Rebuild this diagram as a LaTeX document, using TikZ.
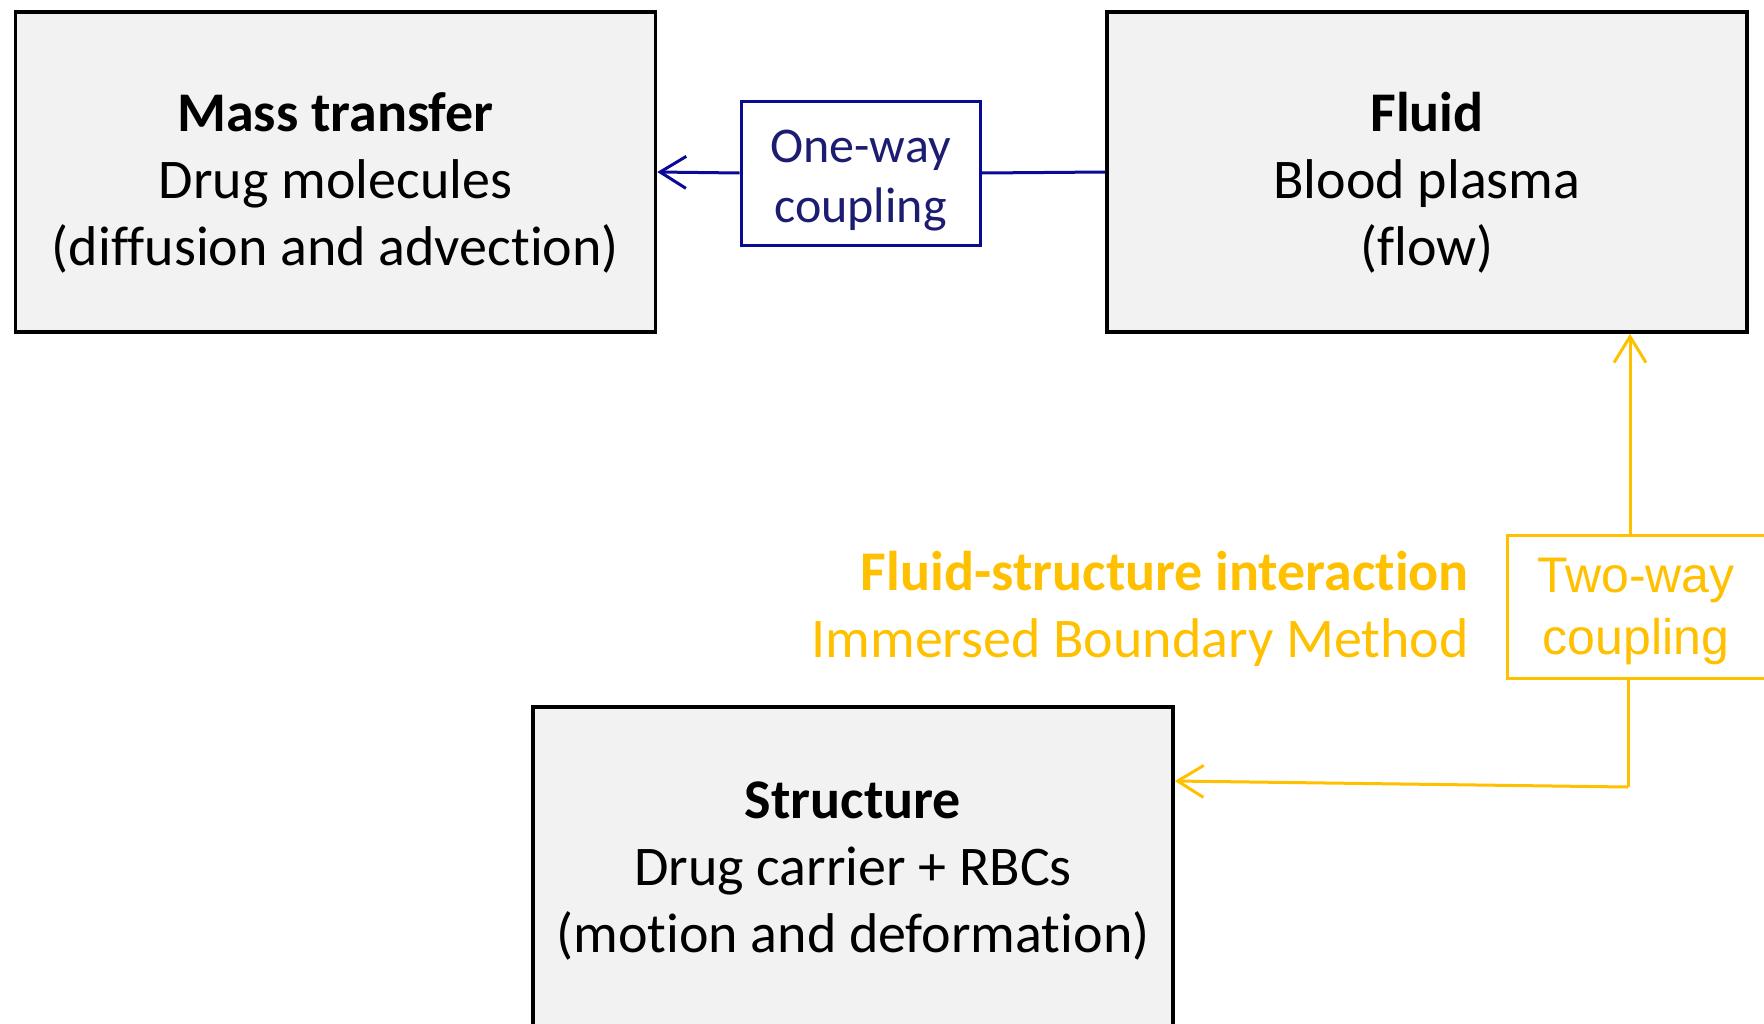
\documentclass[tikz,border=0pt]{standalone}
\usepackage{fontspec}
\setmainfont{Carlito}[Ligatures=NoCommon]
\newfontfamily\arialfont{Liberation Sans}
\usetikzlibrary{arrows.meta,calc}
\definecolor{boxgray}{HTML}{F2F2F2}
\definecolor{navyline}{RGB}{10,10,150}
\definecolor{navytext}{RGB}{28,28,112}
\definecolor{gold}{HTML}{FFC000}
\newcommand{\bigfont}{\fontsize{56}{67}\selectfont}
\newcommand{\physbox}[7]{
	\node [physics] (#1) at (#2,#3) {};
	\node [font=\bigfont, align=center, inner sep=0pt] (#1-text) at ($(#1.center)+(0,#4)$) {\textbf{#5}\\#6\\#7};
}
\tikzset{
	physics/.style={draw=black, line width=3.5pt, fill=boxgray, minimum width=640pt, minimum height=320pt, inner sep=0pt},
	coupling/.style={draw, line width=3pt, fill=white, align=center, inner sep=0pt},
	barb/.style={-{Straight Barb[length=26pt,width=32pt]}, line width=3pt}
}

\begin{document}
\begin{tikzpicture}[x=1pt,y=-1pt]
	\useasboundingbox (0,0) rectangle (1764,1023);

	\physbox{mass}{335.5}{172}{11}{Mass transfer}{Drug molecules}{(diffusion and advection)}
	\physbox{fluid}{1427}{172}{11}{Fluid}{Blood plasma}{(flow)}
	\physbox{structure}{853}{867}{4.5}{Structure}{Drug carrier + RBCs}{(motion and deformation)}

	\node [coupling, draw=navyline, minimum width=239pt, minimum height=144pt] (oneway) at (860.5,173) {};
	\node [text=navytext, align=center, inner sep=0pt, font=\fontsize{50}{60}\selectfont] (oneway-text) at ($(oneway.center)+(0,8)$) {One-way\\coupling};
	\node [coupling, draw=gold, minimum width=258pt, minimum height=143pt] (twoway) at (1636,606.5) {};
	\node [text=gold, align=center, inner sep=0pt, font=\arialfont\fontsize{50}{62}\selectfont] (twoway-text) at ($(twoway.center)+(0,4.5)$) {Two-way\\coupling};
	\node [anchor=east, align=right, text=gold, inner sep=0pt, font=\bigfont] (fsi) at (1469,608.5) {\textbf{Fluid-structure interaction}\\Immersed Boundary Method};
	\coordinate (corner) at (1628,787);

	\draw [navyline, line width=3pt] (fluid.west) -- (oneway.east);
	\draw [navyline, barb] (oneway.west) -- (mass.east);
	\draw [gold, barb] ([xshift=-6pt]twoway.north) -- ([xshift=-6pt]twoway.north |- fluid.south);
	\draw [gold, line width=3pt] ([xshift=-8pt]twoway.south) -- (corner);
	\draw [gold, barb] (corner) -- ($(structure.east |- corner)+(0,-6)$);
\end{tikzpicture}
\end{document}
